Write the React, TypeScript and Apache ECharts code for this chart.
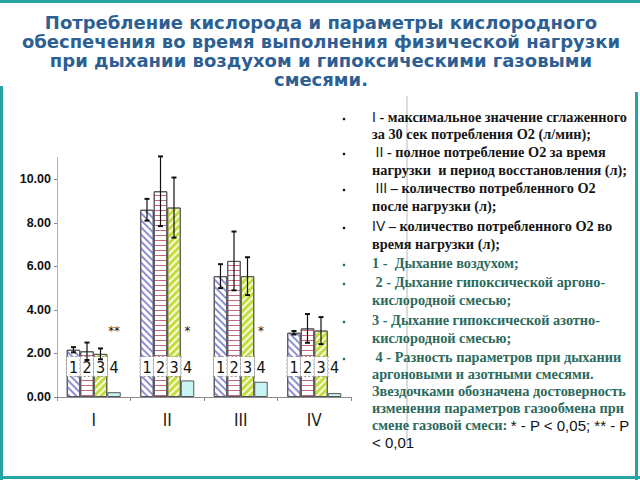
import React, { useEffect, useRef } from "react";
import * as echarts from "echarts";

const categories = ["I", "II", "III", "IV"];
const air = [2.17, 8.6, 5.55, 2.95];
const argon = [2.1, 9.45, 6.25, 3.15];
const nitrogen = [1.98, 8.7, 5.55, 3.05];
const diff = [0.22, 0.76, 0.7, 0.18];
const airErr = [0.12, 0.5, 0.55, 0.08];
const argonErr = [0.4, 1.6, 1.35, 0.66];
const nitrogenErr = [0.25, 1.38, 0.87, 0.62];
const stars = ["**", "*", "*", ""];
const seriesLabels = ["1", "2", "3", "4"];

const titleLines = [
  "Потребление кислорода и параметры кислородного",
  "обеспечения во время выполнения физической нагрузки",
  "при дыхании воздухом и гипоксическими газовыми",
  "смесями.",
];

const legendLines: { t: string; c: string; bullet?: boolean }[] = [
  { t: "{r|I} - максимальное значение сглаженного", c: "k", bullet: true },
  { t: "за 30 сек потребления О2 (л/мин);", c: "k" },
  { t: " {r|II} - полное потребление О2 за время", c: "k", bullet: true },
  { t: "нагрузки  и период восстановления (л);", c: "k" },
  { t: " {r|III} – количество потребленного О2", c: "k", bullet: true },
  { t: "после нагрузки (л);", c: "k" },
  { t: "{r|IV} – количество потребленного О2 во", c: "k", bullet: true },
  { t: "время нагрузки (л);", c: "k" },
  { t: "1 -  Дыхание воздухом;", c: "g", bullet: true },
  { t: " 2 - Дыхание гипоксической аргоно-", c: "g", bullet: true },
  { t: "кислородной смесью;", c: "g" },
  { t: "3 - Дыхание гипоксической азотно-", c: "g", bullet: true },
  { t: "кислородной смесью;", c: "g" },
  { t: " 4 - Разность параметров при дыхании", c: "g", bullet: true },
  { t: "аргоновыми и азотными смесями.", c: "g" },
  { t: "Звездочками обозначена достоверность", c: "g" },
  { t: "изменения параметров газообмена при", c: "g" },
  { t: "смене газовой смеси: {s|* - P < 0,05; ** - P}", c: "g" },
  { t: "{s|< 0,01}", c: "g" },
];

const CAT_GAP = 0.265;
const NARROW = "'Liberation Sans Narrow', 'DejaVu Sans Condensed', 'Liberation Sans', Arial, sans-serif";

export default function App() {
  const ref = useRef<HTMLDivElement>(null);
  useEffect(() => {
    document.body.style.margin = "0";
    const chart = echarts.init(ref.current!, undefined, { renderer: "svg" });

    const labelBase = (i: number) => ({
      show: true,
      position: "insideBottom" as const,
      distance: 21,
      formatter: seriesLabels[i],
      fontFamily: NARROW,
      fontSize: 16,
      color: "#111",
      backgroundColor: "#fff",
      padding: [2, 2, 1, 2],
      borderColor: "#9a9a9a",
      borderType: "dotted" as const,
      borderWidth: 1,
    });

    const errData: number[][] = [];
    [
      [air, airErr],
      [argon, argonErr],
      [nitrogen, nitrogenErr],
    ].forEach(([vals, errs], s) => {
      vals.forEach((v, i) => errData.push([i, v, errs[i], s]));
    });

    const graphic: any[] = [];
    graphic.push(
      { type: "rect", shape: { x: 0, y: 0, width: 640, height: 3 }, style: { fill: "#27a3a3" } },
      { type: "rect", shape: { x: 0, y: 86, width: 3, height: 394 }, style: { fill: "#27a3a3" } },
      { type: "rect", shape: { x: 635, y: 92, width: 3, height: 388 }, style: { fill: "#27a3a3" } },
      { type: "rect", shape: { x: 0, y: 476, width: 640, height: 3 }, style: { fill: "#27a3a3" } },
      { type: "line", shape: { x1: 407, y1: 96, x2: 407, y2: 446 }, style: { stroke: "#b8b8b8", lineWidth: 1 } }
    );
    titleLines.forEach((t, i) => {
      graphic.push({
        type: "text",
        x: 321,
        y: 22 + i * 19,
        style: {
          text: t,
          font: "bold 18px 'DejaVu Sans', 'Liberation Sans', Arial, sans-serif",
          fill: "#2e5f93",
          align: "center",
          verticalAlign: "middle",
        },
      });
    });
    const ys = [117, 134, 152, 170, 188, 206, 226, 244, 263, 282, 300, 320, 338, 357, 374, 391, 408, 425, 442];
    legendLines.forEach((l, i) => {
      const fill = l.c === "k" ? "#151515" : "#2b6a5d";
      graphic.push({
        type: "text",
        x: 372,
        y: ys[i],
        style: {
          text: l.t,
          font: "bold 14.3px 'Liberation Serif', 'Times New Roman', serif",
          fill,
          align: "left",
          verticalAlign: "middle",
          rich: {
            r: { fontFamily: "'Liberation Sans', Arial, sans-serif", fontWeight: "normal", fontSize: 14, fill },
            s: { fontFamily: "'Liberation Sans', Arial, sans-serif", fontWeight: "normal", fontSize: 15, fill: "#111" },
          },
        },
      });
      if (l.bullet) {
        graphic.push({
          type: "circle",
          shape: { cx: 344, cy: ys[i] + 2, r: 1.3 },
          style: { fill },
        });
      }
    });

    chart.setOption({
      animation: false,
      backgroundColor: "#fff",
      grid: { left: 57, top: 157.5, width: 294, bottom: 83 },
      xAxis: {
        type: "category",
        data: categories,
        axisLine: { lineStyle: { color: "#8a8a8a", width: 1 } },
        axisTick: { show: true, length: 4, lineStyle: { color: "#8a8a8a" } },
        axisLabel: { fontFamily: NARROW, fontSize: 17, color: "#222", margin: 14 },
      },
      yAxis: {
        type: "value",
        min: 0,
        max: 11,
        interval: 2,
        splitLine: { show: false },
        axisLine: { show: true, lineStyle: { color: "#b0b0b0" } },
        axisTick: { show: true, length: 3, lineStyle: { color: "#888" } },
        axisLabel: {
          showMaxLabel: false,
          fontFamily: "'Liberation Sans', Arial, sans-serif",
          fontWeight: "bold",
          fontSize: 12.5,
          color: "#111",
          margin: 6,
          formatter: (v: number) => v.toFixed(2),
        },
      },
      series: [
        {
          type: "bar",
          data: air,
          barGap: "0%",
          barCategoryGap: CAT_GAP * 100 + "%",
          itemStyle: {
            color: "#ffffff",
            borderColor: "#555",
            borderWidth: 1,
            decal: { symbol: "rect", symbolSize: 1, color: "#8f8fd8", dashArrayX: [1, 0], dashArrayY: [1.5, 3], rotation: Math.PI / 4 },
          },
          label: labelBase(0),
        },
        {
          type: "bar",
          data: argon,
          itemStyle: {
            color: "#ffffff",
            borderColor: "#555",
            borderWidth: 1,
            decal: { symbol: "rect", symbolSize: 1, color: "#c46685", dashArrayX: [1, 0], dashArrayY: [1, 3.5], rotation: 0 },
          },
          label: labelBase(1),
        },
        {
          type: "bar",
          data: nitrogen,
          itemStyle: {
            color: "#f6fbe0",
            borderColor: "#555",
            borderWidth: 1,
            decal: { symbol: "rect", symbolSize: 1, color: "#c5dd3c", dashArrayX: [1, 0], dashArrayY: [3, 1.8], rotation: -Math.PI / 4 },
          },
          label: labelBase(2),
        },
        {
          type: "bar",
          data: diff,
          itemStyle: { color: "#c8f4f4", borderColor: "#555", borderWidth: 1 },
          label: {
            show: true,
            position: "insideBottom",
            distance: 21,
            formatter: (p: any) => (stars[p.dataIndex] ? `{s|${stars[p.dataIndex]}}\n{n|4}` : "{n|4}"),
            rich: {
              n: { fontFamily: NARROW, fontSize: 16, color: "#111", lineHeight: 18 },
              s: { fontFamily: NARROW, fontSize: 13, color: "#111", lineHeight: 56 },
            },
          },
        },
        {
          type: "custom",
          data: errData,
          z: 5,
          renderItem: (params: any, api: any) => {
            const cat = api.value(0);
            const v = api.value(1);
            const e = api.value(2);
            const s = api.value(3);
            const catW = api.size([1, 0])[0];
            const bw = (catW * (1 - CAT_GAP)) / 4;
            const c = api.coord([cat, v]);
            const x = c[0] + (s - 1.5) * bw;
            const top = api.coord([cat, v + e])[1];
            const bot = api.coord([cat, v - e])[1];
            const st = { stroke: "#111", lineWidth: 1.2 };
            const cap = { stroke: "#111", lineWidth: 2 };
            return {
              type: "group",
              children: [
                { type: "line", shape: { x1: x, y1: top, x2: x, y2: bot }, style: st },
                { type: "line", shape: { x1: x - 2.5, y1: top, x2: x + 2.5, y2: top }, style: cap },
                { type: "line", shape: { x1: x - 2.5, y1: bot, x2: x + 2.5, y2: bot }, style: cap },
              ],
            };
          },
        },
      ],
      graphic,
    });
    return () => chart.dispose();
  }, []);
  return <div ref={ref} style={{ position: "absolute", left: 0, top: 0, width: 640, height: 480 }} />;
}
